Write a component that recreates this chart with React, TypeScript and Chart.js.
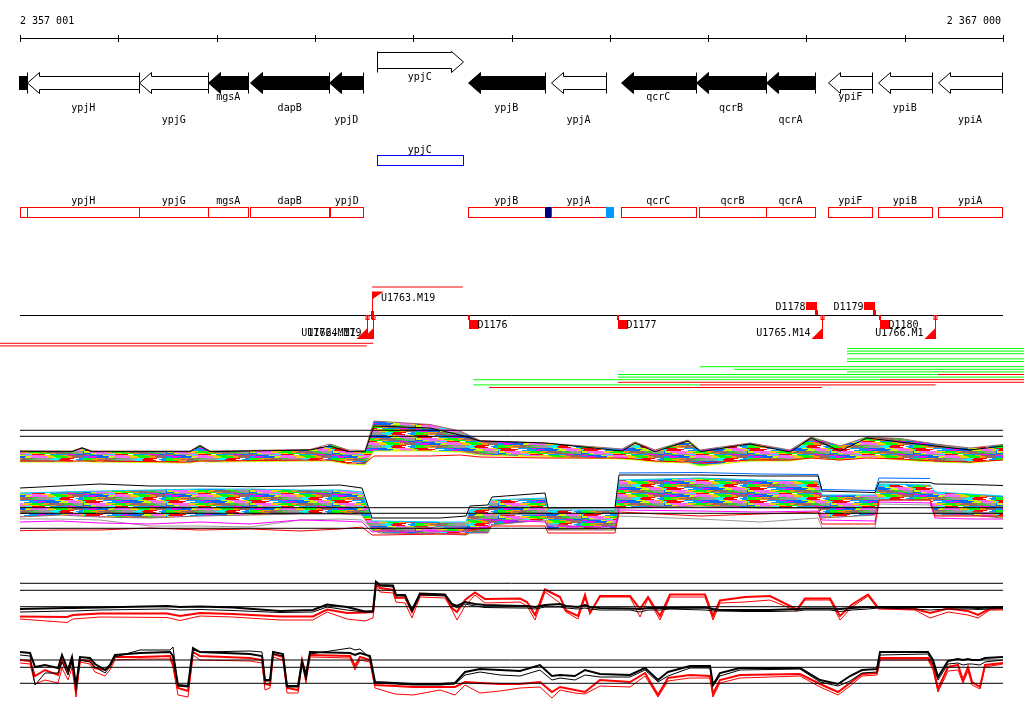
import React, { useEffect, useRef } from 'react';
import { Chart, registerables } from 'chart.js';

Chart.register(...registerables);

// ================= DATA =================
const REGION_START = 2357001;
const REGION_END = 2367000;
const RULER_TICKS = [2357001, 2358001, 2359001, 2360001, 2361001, 2362001, 2363001, 2364001, 2365001, 2366001, 2367000];

// genes (arrow track)
const GENE_NAMES = ['', 'ypjH', 'ypjG', 'mgsA', 'dapB', 'ypjD', 'ypjC', 'ypjB', 'ypjA', 'qcrC', 'qcrB', 'qcrA', 'ypiF', 'ypiB', 'ypiA'];
const GENE_START = [2356200, 2357075, 2358214, 2358916, 2359341, 2360147, 2360632, 2361555, 2362402, 2363111, 2363877, 2364589, 2365223, 2365726, 2366336];
const GENE_END = [2357075, 2358214, 2358916, 2359323, 2360147, 2360493, 2361504, 2362341, 2362962, 2363877, 2364589, 2365088, 2365671, 2366275, 2366993];
const GENE_STRAND = [-1, -1, -1, -1, -1, -1, 1, -1, -1, -1, -1, -1, -1, -1, -1];
const GENE_ESSENTIAL = [true, false, false, true, true, true, false, true, false, true, true, true, false, false, false];

// CDS boxes (strand-split track)
const CDS_NAMES = ['', 'ypjH', 'ypjG', 'mgsA', 'dapB', 'ypjD', 'ypjC', 'ypjB', 'ypjA', 'qcrC', 'qcrB', 'qcrA', 'ypiF', 'ypiB', 'ypiA'];
const CDS_START = [2356200, 2357075, 2358214, 2358916, 2359341, 2360157, 2360632, 2361555, 2362402, 2363111, 2363908, 2364589, 2365223, 2365729, 2366339];
const CDS_END = [2357075, 2358214, 2358916, 2359323, 2360147, 2360493, 2361504, 2362341, 2362962, 2363877, 2364589, 2365088, 2365671, 2366275, 2366993];
const CDS_STRAND = [-1, -1, -1, -1, -1, -1, 1, -1, -1, -1, -1, -1, -1, -1, -1];
const SITE_START = [2362341, 2362958];
const SITE_END = [2362402, 2363046];
const SITE_KIND = ['dark', 'light'];

// transcription start sites and terminators
const TSS_NAMES = ['U1762.M17', 'U1764.M19', 'U1763.M19', 'U1765.M14', 'U1766.M1'];
const TSS_POS = [2360526, 2360592, 2360581, 2365159, 2366308];
const TSS_STRAND = [-1, -1, 1, -1, -1];
const TERM_NAMES = ['D1176', 'D1177', 'D1178', 'D1179', 'D1180'];
const TERM_POS = [2361571, 2363087, 2365105, 2365698, 2365749];
const TERM_STRAND = [-1, -1, 1, 1, -1];

// transcription-unit segments
const TU_START = [2360581, 2356000, 2356000, 2365413, 2365413, 2365413, 2365413, 2365413, 2363918, 2364264, 2365413, 2363081, 2366336, 2363081, 2361612, 2365749, 2363081, 2361612, 2363918, 2361772];
const TU_END = [2361504, 2360595, 2360528, 2367300, 2367300, 2367300, 2367300, 2367300, 2367300, 2367300, 2367300, 2366336, 2367300, 2367300, 2365749, 2367300, 2367300, 2363918, 2366315, 2365159];
const TU_CLASS = ['neg', 'neg', 'neg', 'pos', 'pos', 'pos', 'pos', 'pos', 'pos', 'pos', 'pos', 'pos', 'neg', 'pos', 'pos', 'neg', 'neg', 'pos', 'neg', 'neg'];

// profile panel A (signal)
const A_POS = [2357001, 2357530, 2357632, 2357733, 2358730, 2358832, 2358934, 2359951, 2360155, 2360338, 2360511, 2360602, 2361172, 2361477, 2361681, 2362342, 2363125, 2363257, 2363461, 2363797, 2363919, 2364427, 2364834, 2365048, 2365343, 2365617, 2365953, 2366309, 2366665, 2367000];
const A_TOP = [19.3, 19, 22.5, 19, 19, 25, 19, 20.5, 26, 20, 19.5, 49, 45.5, 39, 29.5, 27, 21, 28, 20, 30, 20, 27, 20, 33, 24, 33, 31.5, 26, 22, 25.5];
const A_BOT = [8, 8, 9, 8, 7, 9, 8, 9, 9, 6, 5, 19, 19, 18, 15, 13, 11, 10, 8, 7, 4, 9, 9, 12, 10, 13, 10, 8, 7, 10];
const A_BLACK = [18.3, 18.3, 22, 18.3, 18.3, 24, 18.3, 20, 24, 18.3, 18.3, 44, 42, 35, 29, 27, 19, 27, 18.3, 29, 18.3, 26, 18, 32, 19, 32, 28, 24, 20, 24];
const A_RED = [9, 9, 9, 9, 8, 9, 9, 10, 10, 7, 7, 14, 14, 15, 13, 12, 12, 11, 9, 8, 7, 10, 10, 12, 10, 12, 11, 9, 8, 10];
const A_REFS = [39.7, 33.7];

// profile panel B
const B_POS = [2357001, 2357408, 2357815, 2358323, 2358832, 2359341, 2359849, 2360256, 2360480, 2360582, 2360663, 2361273, 2361538, 2361578, 2361761, 2361802, 2362341, 2362372, 2363053, 2363094, 2363918, 2364528, 2365118, 2365159, 2365698, 2365739, 2366258, 2366308, 2366664, 2367000];
const B_BLACK = [52, 54, 56, 54, 54, 53.3, 54, 55, 52, 22, 22, 22, 24, 34, 35, 43, 47, 32, 32.3, 65, 65, 64, 64, 49, 47.5, 58, 57.5, 56, 55.5, 54.5];
const B_TOP = [47, 48, 49, 50, 51, 51, 50, 50, 48, 19, 19, 18, 18, 30, 32, 40, 42, 30, 30, 60, 62, 60, 59, 45, 45, 56, 55, 48, 46, 44];
const B_BOT = [23, 25, 23, 22, 24, 25, 26, 26, 25, 10, 7, 6, 5, 7, 7, 15, 20, 10, 10, 32, 34, 32, 32, 22, 25, 40, 40, 25, 25, 22];
const B_RED = [9.3, 10, 10, 12, 10, 11, 9, 11, 13, 5, 5, 6, 6, 10, 12, 14, 14, 7, 7, 28, 24, 26, 28, 16, 16, 40, 40, 24, 24, 24];
const B_MAGENTA = [18, 19, 17, 16, 18, 16, 20, 19, 18, 8, 9, 9, 8, 12, 13, 20, 18, 14, 13, 30, 29, 28, 29, 20, 19, 38, 37, 22, 21, 21];
const B_GRAY = [21, 21, 20, 14, 14, 13, 20, 21, 20, 12, 12, 13, 13, 20, 22, 25, 26, 16, 11, 24, 21, 18, 22, 12, 12, 36, 35, 28, 28, 27];
const B_BLUE = [null, null, null, null, null, null, null, null, null, null, null, null, null, null, null, null, null, null, null, 67, 67.5, 66, 65.5, 50.5, 49.5, 62, 61.5, null, null, null];
const B_REFS = [32.3, 26.7, 11.7];

// profile panel C
const C_POS = [2357001, 2357479, 2357540, 2357815, 2358496, 2358629, 2358832, 2359168, 2359646, 2359981,
  2360124, 2360327, 2360510, 2360592, 2360622, 2360663, 2360795, 2360826, 2360917, 2360988,
  2361070, 2361324, 2361395, 2361446, 2361528, 2361629, 2361731, 2362087, 2362158, 2362240,
  2362341, 2362494, 2362555, 2362677, 2362748, 2362799, 2362901, 2363206, 2363308, 2363389,
  2363511, 2363613, 2363969, 2364050, 2364121, 2364376, 2364630, 2364905, 2364986, 2365240,
  2365342, 2365464, 2365627, 2365729, 2366105, 2366258, 2366441, 2366644, 2366746, 2366868,
  2367000];
const C_BLACK1 = [21, 22, 22, 22.5, 24, 23, 23.5, 22.5, 19, 20, 25.5, 23, 18.5, 19, 48.3, 45, 44.5, 35, 35, 20, 36.5, 35.5, 26, 24, 28, 26, 25, 24, 24, 23, 25, 26, 24, 23, 25, 23, 22, 21.5, 21, 22, 22, 22, 22.5, 21, 20, 20, 20, 21, 21.5, 21.5, 21, 22, 23, 23, 23, 23, 23, 22.5, 22, 22.5, 23];
const C_BLACK2 = [18, 19, 19, 20, 21, 20, 20.5, 19.5, 17.5, 18, 23, 20, 18, 18, 47, 44, 43, 34, 34, 18, 35, 34, 25, 22, 26, 24, 22.5, 22, 22, 21, 23, 23, 22, 21, 22, 21, 20, 20, 18, 20, 20, 21, 20, 19, 19, 18.5, 18.5, 19, 20, 20, 18.5, 20, 21, 22, 21, 20, 21, 21, 20.5, 21, 21.5];
const C_RED1 = [13.5, 13, 15, 16.5, 16.5, 14, 17, 16, 13.5, 13.5, 20.5, 17, 17.5, 18, 46, 42, 40, 32, 32.5, 18, 35.5, 35, 22, 18, 30, 37.5, 31, 31.5, 28, 15, 40.5, 33, 19.5, 14, 35, 17, 34, 34, 21, 33, 14, 35.5, 35.5, 14, 29.5, 33, 34, 20.5, 31.5, 31.5, 14, 25.5, 35.5, 22.5, 21, 17, 21.5, 19, 15, 21.5, 21.5];
const C_RED2 = [11, 7.5, 11, 13, 12.5, 9.5, 14, 13, 10, 10, 18, 11, 9, 12, 44, 38, 37, 28, 27, 12, 33, 32, 20, 10, 24, 35, 27, 28, 24, 10, 38, 27, 18, 11, 32, 17, 33, 33, 13, 31.5, 10, 33, 33, 10, 27, 28, 30, 19, 30, 30, 10, 23, 34, 21, 20, 12, 18, 15, 12, 20, 20];
const C_REFS = [46.7, 39.7, 23.3];

// profile panel D
const D_POS = [2357001, 2357103, 2357154, 2357255, 2357388, 2357428, 2357489, 2357530, 2357571, 2357611,
  2357713, 2357764, 2357866, 2357916, 2357967, 2358222, 2358527, 2358557, 2358608, 2358710,
  2358761, 2358832, 2359341, 2359463, 2359493, 2359544, 2359575, 2359676, 2359717, 2359829,
  2359870, 2359910, 2359951, 2360358, 2360409, 2360459, 2360561, 2360612, 2360816, 2360999,
  2361273, 2361426, 2361528, 2361680, 2361884, 2362087, 2362290, 2362412, 2362494, 2362646,
  2362748, 2362901, 2363206, 2363359, 2363491, 2363592, 2363816, 2364020, 2364050, 2364121,
  2364325, 2364935, 2365139, 2365322, 2365444, 2365566, 2365718, 2365749, 2366237, 2366288,
  2366339, 2366441, 2366542, 2366593, 2366644, 2366685, 2366766, 2366817, 2367000];
const D_BLACK1 = [48, 47, 33, 35, 32, 45, 30, 43, 14, 43, 42, 36, 30, 35, 45, 47, 48, 44, 15, 14, 52, 48, 46, 44, 20, 20, 48, 46, 14, 14, 38, 25, 48, 47, 45, 47, 44, 18, 17, 16, 16, 17, 28, 31, 30, 29, 35, 24, 25, 24, 30, 26, 25, 32, 20, 28, 34, 34, 15, 27, 32, 32, 20, 16, 24, 30, 31, 48, 48, 40, 23, 39, 41, 40, 41, 40, 40, 42, 43];
const D_BLACK2 = [45, 44, 15, 27, 27, 38, 25, 38, 13, 40, 38, 33, 27, 33, 43, 50, 50, 53, 14, 13, 50, 48, 49, 48, 19, 19, 46, 44, 13, 13, 36, 20, 46, 52, 50, 51, 42, 17, 16, 15, 15, 16, 25, 28, 25, 24, 30, 20, 22, 20, 25, 23, 23, 30, 18, 24, 32, 32, 14, 24, 30, 31, 18, 14, 19, 27, 28, 45, 46, 36, 20, 36, 37, 35, 36, 36, 35, 38, 40];
const D_RED1 = [40, 39, 24, 30, 25, 40, 28, 40, 10, 40, 39, 32, 30, 34, 43, 43, 44, 36, 12, 9, 48, 44, 42, 40, 16, 15, 46, 43, 12, 10, 40, 24, 45, 44, 34, 43, 40, 15, 14, 13, 13, 13, 18, 17, 16, 16, 18, 8, 13, 10, 8, 20, 18, 27, 5, 22, 25, 24, 6, 20, 25, 26, 16, 8, 17, 26, 27, 42, 42, 34, 11, 33, 35, 20, 33, 18, 13, 35, 37];
const D_RED2 = [37, 36, 16, 20, 17, 32, 20, 32, 3, 38, 36, 28, 24, 30, 40, 41, 41, 33, 5, 3, 45, 40, 39, 37, 10, 12, 43, 40, 7, 7, 37, 17, 43, 42, 30, 40, 38, 12, 6, 5, 10, 5, 15, 7, 9, 12, 13, 2, 10, 7, 6, 14, 13, 24, 3, 19, 22, 22, 3, 17, 22, 24, 13, 5, 14, 24, 25, 40, 40, 30, 8, 29, 30, 17, 29, 15, 11, 33, 36];
const D_REFS = [40, 32.7, 16.7];

// ================= LAYOUT / STYLE =================
const W = 1024;
const H = 714;
const PLOT_L = 20;
const PLOT_R = 1003;
const BP_PER_PX = (REGION_END - REGION_START) / (PLOT_R - PLOT_L);
const X_MIN = REGION_START - PLOT_L * BP_PER_PX;
const X_MAX = X_MIN + W * BP_PER_PX;
const PANEL_BASE: Record<string, number> = { yA: 470, yB: 540, yC: 630, yD: 700 };
const ROW_TOP = 343.3;
const ROW_STEP = 2.6;
const TU_ROW = [-21.65, 0, 1, 2, 3, 4, 6, 7, 9, 10, 11, 12, 12, 13, 14, 14, 15, 16, 16, 17];
const TU_COLOR: Record<string, string> = { pos: '#00ff00', neg: '#ff0000' };
const LABEL_TIER: Record<string, number> = { ypjH: 1, ypjG: 2, mgsA: 0, dapB: 1, ypjD: 2, ypjB: 1, ypjA: 2, qcrC: 0, qcrB: 1, qcrA: 2, ypiF: 0, ypiB: 1, ypiA: 2 };
const TIER_BASELINE = [100, 111, 123];
const ARROW_REV = { headTop: 72.5, bodyTop: 76.5, bodyBot: 89.5, headBot: 93.5, mid: 83 };
const ARROW_FWD = { headTop: 51.5, bodyTop: 52.5, bodyBot: 68.5, headBot: 72.5, mid: 62 };
const ARROW_HEAD = 12;
const SITE_COLOR: Record<string, string> = { dark: '#000080', light: '#0099ff' };
const BAND_PALETTE = ['#ff00ff', '#00ff00', '#00ffff', '#0066ff', '#ff9900', '#ff0000', '#ccff00', '#996666', '#ffffff', '#ff66ff', '#33cc33', '#0099ff', '#ffcc00', '#999999'];
const BAND_SEGS = [7, 13, 5, 17, 9, 11, 6, 15];
const FONT = '10px "DejaVu Sans Mono", "Liberation Mono", monospace';

const crisp = (v: number) => Math.round(v) + 0.5;
const groupDigits = (n: number) => String(n).replace(/\B(?=(\d{3})+(?!\d))/g, ' ');

const genomePlugin = {
  id: 'genomeTracks',
  afterDatasetsDraw(chart: any) {
    const ctx: CanvasRenderingContext2D = chart.ctx;
    const sx = chart.scales.x;
    const X = (v: number) => sx.getPixelForValue(v);
    const L = X(REGION_START);
    const R = X(REGION_END);
    ctx.save();
    ctx.font = FONT;
    ctx.textBaseline = 'alphabetic';
    ctx.fillStyle = '#000';
    ctx.strokeStyle = '#000';
    ctx.lineWidth = 1;

    // ruler
    ctx.textAlign = 'left';
    ctx.fillText(groupDigits(REGION_START), L, 24);
    ctx.textAlign = 'right';
    ctx.fillText(groupDigits(REGION_END), R - 2, 24);
    ctx.beginPath();
    ctx.moveTo(L, 38.5);
    ctx.lineTo(R, 38.5);
    RULER_TICKS.forEach((t) => {
      const p = crisp(X(t));
      ctx.moveTo(p, 35);
      ctx.lineTo(p, 42);
    });
    ctx.stroke();

    // clipped region drawing
    ctx.save();
    ctx.beginPath();
    ctx.rect(Math.floor(L), 0, Math.ceil(R - L) + 1, H);
    ctx.clip();

    GENE_NAMES.forEach((_n, i) => {
      const a = crisp(X(GENE_START[i]));
      const b = crisp(X(GENE_END[i]));
      const fwd = GENE_STRAND[i] > 0;
      const g = fwd ? ARROW_FWD : ARROW_REV;
      const head = Math.min(ARROW_HEAD, b - a);
      ctx.beginPath();
      if (fwd) {
        const hb = b - head;
        ctx.moveTo(a, g.bodyTop);
        ctx.lineTo(hb, g.bodyTop);
        ctx.lineTo(hb, g.headTop);
        ctx.lineTo(b, g.mid);
        ctx.lineTo(hb, g.headBot);
        ctx.lineTo(hb, g.bodyBot);
        ctx.lineTo(a, g.bodyBot);
      } else {
        const hb = a + head;
        ctx.moveTo(b, g.bodyTop);
        ctx.lineTo(hb, g.bodyTop);
        ctx.lineTo(hb, g.headTop);
        ctx.lineTo(a, g.mid);
        ctx.lineTo(hb, g.headBot);
        ctx.lineTo(hb, g.bodyBot);
        ctx.lineTo(b, g.bodyBot);
      }
      ctx.closePath();
      ctx.fillStyle = GENE_ESSENTIAL[i] ? '#000' : '#fff';
      ctx.fill();
      ctx.strokeStyle = '#000';
      ctx.stroke();
      const back = fwd ? a : b;
      ctx.beginPath();
      ctx.moveTo(back, g.headTop);
      ctx.lineTo(back, g.headBot);
      ctx.stroke();
    });

    CDS_NAMES.forEach((_n, i) => {
      const a = crisp(Math.max(X(CDS_START[i]), L));
      const b = crisp(Math.min(X(CDS_END[i]), R));
      const fwd = CDS_STRAND[i] > 0;
      ctx.strokeStyle = fwd ? '#0000ff' : '#ff0000';
      ctx.strokeRect(a, fwd ? 155.5 : 207.5, b - a, 10);
    });
    SITE_START.forEach((s, i) => {
      const a = Math.round(X(s));
      const b = Math.round(X(SITE_END[i]));
      ctx.fillStyle = SITE_COLOR[SITE_KIND[i]];
      ctx.fillRect(a, 207, b - a, 11);
    });
    ctx.restore();

    // gene labels
    ctx.fillStyle = '#000';
    ctx.textAlign = 'center';
    GENE_NAMES.forEach((name, i) => {
      if (!name) return;
      const a = Math.max(X(GENE_START[i]), L);
      const b = Math.min(X(GENE_END[i]), R);
      const y = GENE_STRAND[i] > 0 ? 80 : TIER_BASELINE[LABEL_TIER[name] ?? 1];
      ctx.fillText(name, (a + b) / 2, y);
    });
    CDS_NAMES.forEach((name, i) => {
      if (!name) return;
      const a = Math.max(X(CDS_START[i]), L);
      const b = Math.min(X(CDS_END[i]), R);
      ctx.fillText(name, (a + b) / 2, CDS_STRAND[i] > 0 ? 153 : 204);
    });

    // TSS / terminator track
    ctx.strokeStyle = '#000';
    ctx.beginPath();
    ctx.moveTo(L, 315.5);
    ctx.lineTo(R, 315.5);
    ctx.stroke();

    ctx.strokeStyle = '#ff0000';
    TSS_POS.forEach((p, i) => {
      const x = crisp(X(p));
      ctx.fillStyle = '#ff0000';
      if (TSS_STRAND[i] > 0) {
        ctx.beginPath();
        ctx.moveTo(x, 292);
        ctx.lineTo(x, 318);
        ctx.stroke();
        ctx.beginPath();
        ctx.moveTo(x - 0.5, 291.5);
        ctx.lineTo(x + 11, 291.5);
        ctx.lineTo(x - 0.5, 299.5);
        ctx.closePath();
        ctx.fill();
        ctx.fillRect(x - 1.5, 311, 3, 8);
        ctx.fillStyle = '#000';
        ctx.textAlign = 'left';
        ctx.fillText(TSS_NAMES[i], x + 8.5, 301);
      } else {
        ctx.beginPath();
        ctx.moveTo(x, 315);
        ctx.lineTo(x, 338.5);
        ctx.stroke();
        ctx.beginPath();
        ctx.moveTo(x + 0.5, 327.5);
        ctx.lineTo(x + 0.5, 339);
        ctx.lineTo(x - 11, 339);
        ctx.closePath();
        ctx.fill();
        ctx.strokeRect(x - 1.5, 315.5, 3, 4);
        ctx.fillStyle = '#000';
        ctx.textAlign = 'right';
        ctx.fillText(TSS_NAMES[i], x - 12, 336);
      }
    });
    TERM_POS.forEach((p, i) => {
      const x = Math.round(X(p));
      ctx.fillStyle = '#ff0000';
      if (TERM_STRAND[i] > 0) {
        ctx.fillRect(x - 11, 302, 11, 8);
        ctx.fillRect(x - 2, 310, 3, 5);
        ctx.fillStyle = '#000';
        ctx.textAlign = 'right';
        ctx.fillText(TERM_NAMES[i], x - 11.5, 310);
      } else {
        ctx.fillRect(x - 1, 315, 2, 5);
        ctx.fillRect(x, 320, 10, 9);
        ctx.fillStyle = '#000';
        ctx.textAlign = 'left';
        ctx.fillText(TERM_NAMES[i], x + 8.5, 328);
      }
    });
    ctx.restore();
  },
};

const pts = (xs: number[], ys: (number | null)[]) => xs.map((x, i) => ({ x, y: ys[i] }));
const line = (data: any[], yAxisID: string, color: string, width: number, order: number, extra: any = {}) => ({
  data,
  yAxisID,
  borderColor: color,
  backgroundColor: color,
  borderWidth: width,
  pointRadius: 0,
  pointHoverRadius: 0,
  tension: 0,
  fill: false,
  order,
  ...extra,
});

// mottled multi-colour stripe texture used to fill the dense profile bands
function makeBandPattern(ctx: CanvasRenderingContext2D) {
  const tile = document.createElement('canvas');
  const tw = BAND_SEGS.reduce((s, v) => s + v, 0);
  const th = 13;
  tile.width = tw;
  tile.height = th;
  const t = tile.getContext('2d') as CanvasRenderingContext2D;
  for (let r = 0; r < th; r++) {
    let x0 = -((r * 29) % tw);
    let s = r % BAND_SEGS.length;
    let k = 0;
    while (x0 < tw) {
      const w = BAND_SEGS[s % BAND_SEGS.length];
      t.fillStyle = BAND_PALETTE[(r * 5 + k * 3) % BAND_PALETTE.length];
      t.fillRect(x0, r, w, 1);
      if (x0 < 0) t.fillRect(x0 + tw, r, w, 1);
      x0 += w;
      s++;
      k++;
    }
  }
  return ctx.createPattern(tile, 'repeat') as CanvasPattern;
}

export default function App() {
  const ref = useRef<HTMLCanvasElement | null>(null);
  useEffect(() => {
    const canvas = ref.current;
    if (!canvas) return;
    const ctx = canvas.getContext('2d') as CanvasRenderingContext2D;
    const pattern = makeBandPattern(ctx);

    const refLines = (levels: number[], axis: string) =>
      levels.map((lv) => line([{ x: REGION_START, y: lv }, { x: REGION_END, y: lv }], axis, '#000000', 1, 0));

    const datasets: any[] = [
      ...refLines(A_REFS, 'yA'),
      ...refLines(B_REFS, 'yB'),
      ...refLines(C_REFS, 'yC'),
      ...refLines(D_REFS, 'yD'),
      // panel A
      line(pts(A_POS, A_BLACK), 'yA', '#000000', 1, 1),
      line(pts(A_POS, A_RED), 'yA', '#ff0000', 1, 1),
      line(pts(A_POS, A_TOP), 'yA', '#996666', 1, 3),
      line(pts(A_POS, A_BOT), 'yA', '#ccff00', 1, 3, { fill: '-1', backgroundColor: pattern }),
      // panel B
      line(pts(B_POS, B_BLACK), 'yB', '#000000', 1, 1),
      line(pts(B_POS, B_BLUE), 'yB', '#0066ff', 1, 1),
      line(pts(B_POS, B_RED), 'yB', '#ff0000', 1, 1),
      line(pts(B_POS, B_MAGENTA), 'yB', '#ff00ff', 1, 1),
      line(pts(B_POS, B_GRAY), 'yB', '#999999', 1, 1),
      line(pts(B_POS, B_TOP), 'yB', '#00ccff', 1, 3),
      line(pts(B_POS, B_BOT), 'yB', '#996666', 1, 3, { fill: '-1', backgroundColor: pattern }),
      // panel C
      line(pts(C_POS, C_BLACK1), 'yC', '#000000', 2, 1),
      line(pts(C_POS, C_BLACK2), 'yC', '#000000', 1, 1),
      line(pts(C_POS, C_RED1), 'yC', '#ff0000', 2, 2),
      line(pts(C_POS, C_RED2), 'yC', '#ff0000', 1, 2),
      // panel D
      line(pts(D_POS, D_BLACK1), 'yD', '#000000', 2, 1),
      line(pts(D_POS, D_BLACK2), 'yD', '#000000', 1, 1),
      line(pts(D_POS, D_RED1), 'yD', '#ff0000', 2, 2),
      line(pts(D_POS, D_RED2), 'yD', '#ff0000', 1, 2),
      // transcription units
      ...TU_START.map((s, i) =>
        line([{ x: s, y: TU_ROW[i] }, { x: TU_END[i], y: TU_ROW[i] }], 'yR', TU_COLOR[TU_CLASS[i]], 1, 1)
      ),
    ];

    const panelScale = (base: number) => ({ type: 'linear', display: false, min: base - H, max: base });

    const chart = new Chart(canvas, {
      type: 'line',
      data: { datasets },
      options: {
        animation: false,
        responsive: false,
        devicePixelRatio: 1,
        events: [],
        layout: { padding: 0 },
        plugins: { legend: { display: false }, tooltip: { enabled: false }, title: { display: false } },
        scales: {
          x: { type: 'linear', display: false, min: X_MIN, max: X_MAX },
          yA: panelScale(PANEL_BASE.yA),
          yB: panelScale(PANEL_BASE.yB),
          yC: panelScale(PANEL_BASE.yC),
          yD: panelScale(PANEL_BASE.yD),
          yR: {
            type: 'linear',
            display: false,
            reverse: true,
            min: -ROW_TOP / ROW_STEP,
            max: (H - ROW_TOP) / ROW_STEP,
          },
        },
      } as any,
      plugins: [genomePlugin as any],
    });
    return () => chart.destroy();
  }, []);

  return (
    <div style={{ position: 'fixed', left: 0, top: 0, width: W, height: H, background: '#fff' }}>
      <canvas ref={ref} width={W} height={H} style={{ display: 'block', width: W, height: H }} />
    </div>
  );
}
